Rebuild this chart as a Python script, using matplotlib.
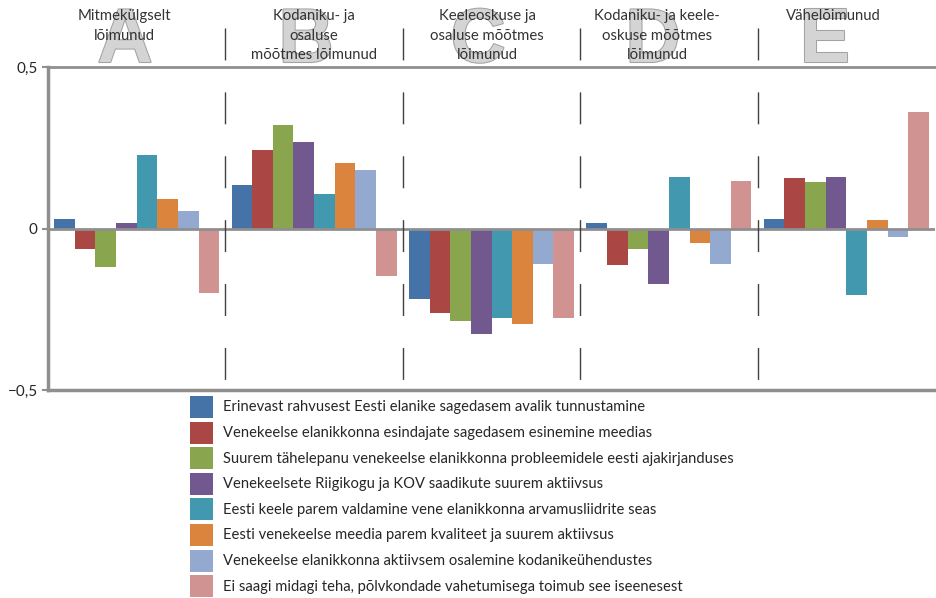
import matplotlib
matplotlib.use("Agg")
import matplotlib.pyplot as plt
import matplotlib.patheffects as pe
from matplotlib.patches import Rectangle
from matplotlib.transforms import blended_transform_factory
import numpy as np

plt.rcParams['font.family'] = ['Lato', 'DejaVu Sans']

groups = ["Mitmekülgselt\nlõimunud",
          "Kodaniku- ja\nosaluse\nmõõtmes lõimunud",
          "Keeleoskuse ja\nosaluse mõõtmes\nlõimunud",
          "Kodaniku- ja keele-\noskuse mõõtmes\nlõimunud",
          "Vähelõimunud"]
letters = ["A", "B", "C", "D", "E"]

series_labels = [
    "Erinevast rahvusest Eesti elanike sagedasem avalik tunnustamine",
    "Venekeelse elanikkonna esindajate sagedasem esinemine meedias",
    "Suurem tähelepanu venekeelse elanikkonna probleemidele eesti ajakirjanduses",
    "Venekeelsete Riigikogu ja KOV saadikute suurem aktiivsus",
    "Eesti keele parem valdamine vene elanikkonna arvamusliidrite seas",
    "Eesti venekeelse meedia parem kvaliteet ja suurem aktiivsus",
    "Venekeelse elanikkonna aktiivsem osalemine kodanikeühendustes",
    "Ei saagi midagi teha, põlvkondade vahetumisega toimub see iseenesest",
]

# values per series, across groups A..E
s1 = [0.031, 0.134, -0.217, 0.017, 0.030]
s2 = [-0.062, 0.245, -0.261, -0.113, 0.157]
s3 = [-0.118, 0.320, -0.285, -0.064, 0.144]
s4 = [0.019, 0.270, -0.326, -0.172, 0.160]
s5 = [0.227, 0.106, -0.276, 0.160, -0.207]
s6 = [0.093, 0.202, -0.295, -0.045, 0.026]
s7 = [0.056, 0.183, -0.108, -0.110, -0.026]
s8 = [-0.199, -0.146, -0.276, 0.148, 0.362]
series = [s1, s2, s3, s4, s5, s6, s7, s8]

colors = ["#4572A7", "#AA4643", "#89A54E", "#71588F",
          "#4198AF", "#DB843D", "#93A9CF", "#D19392"]

yticks = [0.5, 0, -0.5]
ytick_labels = ["0,5", "0", "\u22120,5"]

W, H = 936, 598
fig = plt.figure(figsize=(W / 100, H / 100), dpi=100)

def fx(px):
    return px / W

def fy(py):
    return 1 - py / H

ax = fig.add_axes([fx(48), fy(390), fx(935) - fx(48), fy(67.3) - fy(390)])

n = len(series)
x = np.arange(len(groups))
group_w = 0.93
bw = group_w / n
for i, (vals, c) in enumerate(zip(series, colors)):
    ax.bar(x - group_w / 2 + bw * (i + 0.5), vals, width=bw, color=c,
           edgecolor='none', zorder=2)

ax.set_xlim(-0.5, len(groups) - 0.5)
ax.set_ylim(-0.5, 0.5)
ax.set_xticks([])
ax.set_yticks(yticks)
ax.set_yticklabels(ytick_labels)
ax.tick_params(axis='y', length=4.5, width=1.5, color='#8f8f8f', pad=3,
               labelsize=11, labelcolor='#262626')
spine_c = '#8f8f8f'
ax.spines['right'].set_visible(False)
ax.spines['left'].set_color(spine_c)
ax.spines['left'].set_linewidth(2.5)
ax.spines['top'].set_color(spine_c)
ax.spines['top'].set_linewidth(2)
ax.spines['bottom'].set_color(spine_c)
ax.spines['bottom'].set_linewidth(2.5)
ax.axhline(0, color=spine_c, lw=2, zorder=3)

# dashed separators between groups
tr = blended_transform_factory(ax.transData, fig.transFigure)
for b in x[:-1] + 0.5:
    ax.plot([b, b], [fy(28), fy(390)], transform=tr, color='#404040', lw=1,
            dashes=(23, 23), clip_on=False, zorder=4)

# big letters and group titles
letter_cx = [125, 306, 478, 653, 825]
title_cx = [124.5, 314, 487, 657, 833]
for lx, L in zip(letter_cx, letters):
    fig.text(fx(lx), fy(62), L, ha='center', va='baseline',
             fontsize=55, fontweight='bold', family='Liberation Sans',
             color='#d4d4d4', zorder=1,
             path_effects=[pe.Stroke(linewidth=1.5, foreground='#a3a3a3'),
                           pe.Normal()])
for tx, t in zip(title_cx, groups):
    fig.text(fx(tx), fy(9), t, ha='center', va='top', fontsize=10.7,
             color='#333333', linespacing=1.52, zorder=5)

# legend
for i, (lab, c) in enumerate(zip(series_labels, colors)):
    top = 396 + i * 25.6
    fig.patches.append(Rectangle((fx(190), fy(top + 22)), fx(213) - fx(190),
                                 fy(top) - fy(top + 22), transform=fig.transFigure,
                                 facecolor=c, edgecolor='none'))
    fig.text(fx(223), fy(top + 11.5), lab, ha='left', va='center',
             fontsize=10.6, color='#262626')

fig.savefig("out.png", dpi=100)
